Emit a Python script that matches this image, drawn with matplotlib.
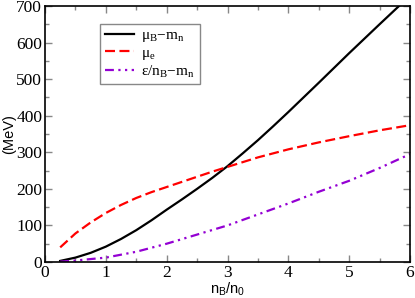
import matplotlib
matplotlib.use("Agg")
import matplotlib.pyplot as plt
from matplotlib.ticker import MultipleLocator

x_mu_b = [0.25, 0.5, 0.75, 1.0, 1.25, 1.5, 1.75, 2.0, 2.25, 2.5, 2.75, 3.0, 3.25, 3.5, 3.75, 4.0, 4.5, 5.0, 5.5, 5.82]
mu_b = [3, 12, 25, 42, 63, 87, 114, 143, 171, 200, 230, 262, 297, 333, 371, 410, 490, 571, 650, 700]

x_mu_e = [0.25, 0.5, 0.75, 1.0, 1.25, 1.5, 1.75, 2.0, 2.25, 2.5, 2.75, 3.0, 3.5, 4.0, 4.5, 5.0, 5.5, 6.0]
mu_e = [40, 78, 108, 134, 156, 175, 191, 205, 219, 233, 247, 260, 286, 308, 327, 344, 360, 374]

x_eps = [0.25, 0.5, 0.75, 1.0, 1.5, 2.0, 2.5, 3.0, 3.5, 4.0, 4.5, 5.0, 5.5, 6.0]
eps = [1, 4, 8, 12, 28, 50, 75, 100, 130, 160, 192, 222, 257, 295]

labels = [r"$\mathregular{\mu_B{-}m_n}$", r"$\mathregular{\mu_e}$", r"$\mathregular{\varepsilon/n_B{-}m_n}$"]

plt.rcParams['mathtext.fontset'] = 'custom'
plt.rcParams['mathtext.rm'] = 'Liberation Serif'
plt.rcParams['mathtext.it'] = 'Liberation Serif'

fig = plt.figure(figsize=(4.15, 2.98), dpi=100)
ax = fig.add_axes([0.1084, 0.1208, 0.8796, 0.8592])

ax.plot(x_mu_b, mu_b, color='black', lw=1.6, label=labels[0])
ax.plot(x_mu_e, mu_e, color='red', lw=1.6, dashes=(4.5, 2), label=labels[1])
ax.plot(x_eps, eps, color='#9400d3', lw=1.6, dashes=(4, 2, 1, 2, 1, 2), label=labels[2])

ax.set_xlim(0, 6)
ax.set_ylim(0, 700)
ax.xaxis.set_major_locator(MultipleLocator(1))
ax.xaxis.set_minor_locator(MultipleLocator(0.5))
ax.yaxis.set_major_locator(MultipleLocator(100))
ax.yaxis.set_minor_locator(MultipleLocator(50))
ax.tick_params(which='both', direction='in', top=True, right=True, color='#888888')
ax.tick_params(which='major', length=5, width=1, pad=2)
ax.tick_params(which='minor', length=3, width=1)
for lab in ax.get_xticklabels() + ax.get_yticklabels():
    lab.set_fontfamily('Liberation Serif')
    lab.set_fontsize(12.5)
for s in ax.spines.values():
    s.set_linewidth(1.2)

ax.set_xlabel(r"n$_\mathregular{B}$/n$_\mathregular{0}$", fontfamily='Liberation Sans', fontsize=10.5, labelpad=0)
ax.set_ylabel("(MeV)", fontfamily='Liberation Sans', fontsize=10.5, labelpad=0)

leg = ax.legend(loc='upper left', bbox_to_anchor=(0.151, 0.93), borderaxespad=0,
                prop={'family': 'Liberation Serif', 'size': 11},
                handlelength=1.9, handletextpad=0.5, labelspacing=0.12, borderpad=0.3,
                fancybox=False, framealpha=1, edgecolor='#888888')
leg.get_frame().set_linewidth(1.0)

fig.savefig("out.png", dpi=100)
